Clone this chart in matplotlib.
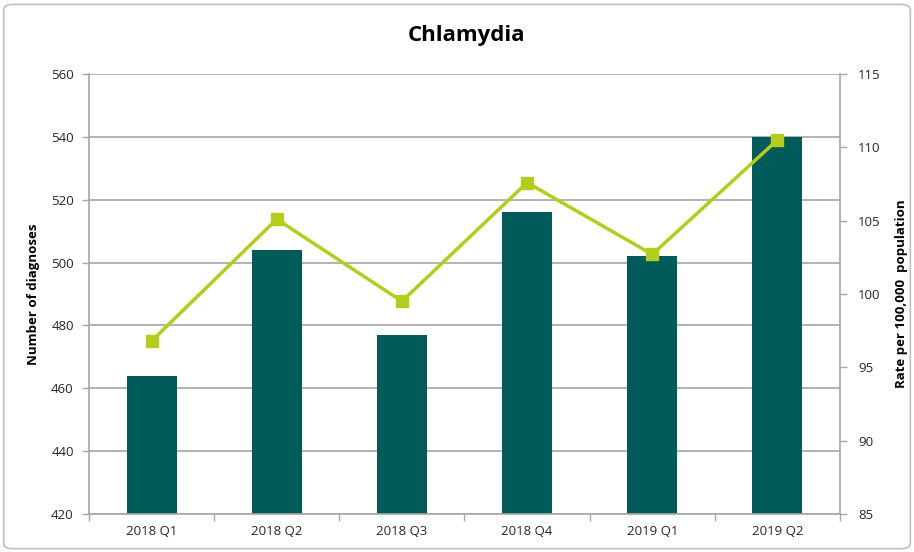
import numpy as np
import matplotlib
matplotlib.use("Agg")
from matplotlib import pyplot as plt
from matplotlib.patches import FancyBboxPatch

quarters = ["2018 Q1", "2018 Q2", "2018 Q3", "2018 Q4", "2019 Q1", "2019 Q2"]
diagnoses = [464, 504, 477, 516, 502, 540]
rate = [96.8, 105.1, 99.5, 107.6, 102.7, 110.5]

left_ticks = [420, 440, 460, 480, 500, 520, 540, 560]
right_ticks = [85, 90, 95, 100, 105, 110, 115]

bar_color = "#015B5B"
line_color = "#B4CC1A"
grid_color = "#A6A6A6"

plt.rcParams['font.family'] = ['Open Sans', 'DejaVu Sans']

fig = plt.figure(figsize=(9.14, 5.52), dpi=100)
# outer chart frame (no fill so it doesn't hide the axes)
frame = FancyBboxPatch((0.004, 0.006), 0.992, 0.986, boxstyle="round,pad=0,rounding_size=0.01",
                       transform=fig.transFigure, facecolor="none", edgecolor="#BFBFBF", linewidth=1.2)
fig.patches.append(frame)

ax = fig.add_axes([0.0974, 0.0688, 0.8216, 0.7972])
ax.set_facecolor("none")
x = np.arange(len(quarters))

ax.bar(x, diagnoses, width=0.4, color=bar_color, zorder=2)
ax.set_ylim(420, 560)
ax.set_xlim(-0.5, len(quarters) - 0.5)
ax.set_yticks(left_ticks)
ax.yaxis.grid(True, color=grid_color, linewidth=1.2, zorder=0)
ax.set_axisbelow(True)
ax.set_xticks(x)
ax.set_xticklabels(quarters)
ax.set_xticks(np.arange(-0.5, len(quarters)), minor=True)
ax.tick_params(axis='x', which='major', length=0, pad=8, labelsize=9.5, colors="#262626")
ax.tick_params(axis='x', which='minor', length=5, color=grid_color, width=1)
ax.tick_params(axis='y', length=5, color=grid_color, width=1, labelsize=9.5, labelcolor="#262626", pad=6)
for side in ["top", "right"]:
    ax.spines[side].set_visible(False)
for side in ["left", "bottom"]:
    ax.spines[side].set_color(grid_color)
    ax.spines[side].set_linewidth(1.2)
ax.set_ylabel("Number of diagnoses", fontsize=9.5, fontweight='bold', labelpad=8)

ax2 = ax.twinx()
ax2.plot(x, rate, color=line_color, linewidth=2.5, marker='s', markersize=9, zorder=3)
ax2.set_ylim(85, 115)
ax2.set_yticks(right_ticks)
ax2.tick_params(axis='y', length=5, color=grid_color, width=1, labelsize=9.5, labelcolor="#262626", pad=8)
for side in ["top", "left", "bottom"]:
    ax2.spines[side].set_visible(False)
ax2.spines["right"].set_color(grid_color)
ax2.spines["right"].set_linewidth(1.2)
ax2.set_ylabel("Rate per 100,000  population", fontsize=9.5, fontweight='bold', labelpad=10)

fig.suptitle("Chlamydia", x=0.51, y=0.955, fontsize=16, fontweight='bold')

fig.savefig("out.png", dpi=100)
